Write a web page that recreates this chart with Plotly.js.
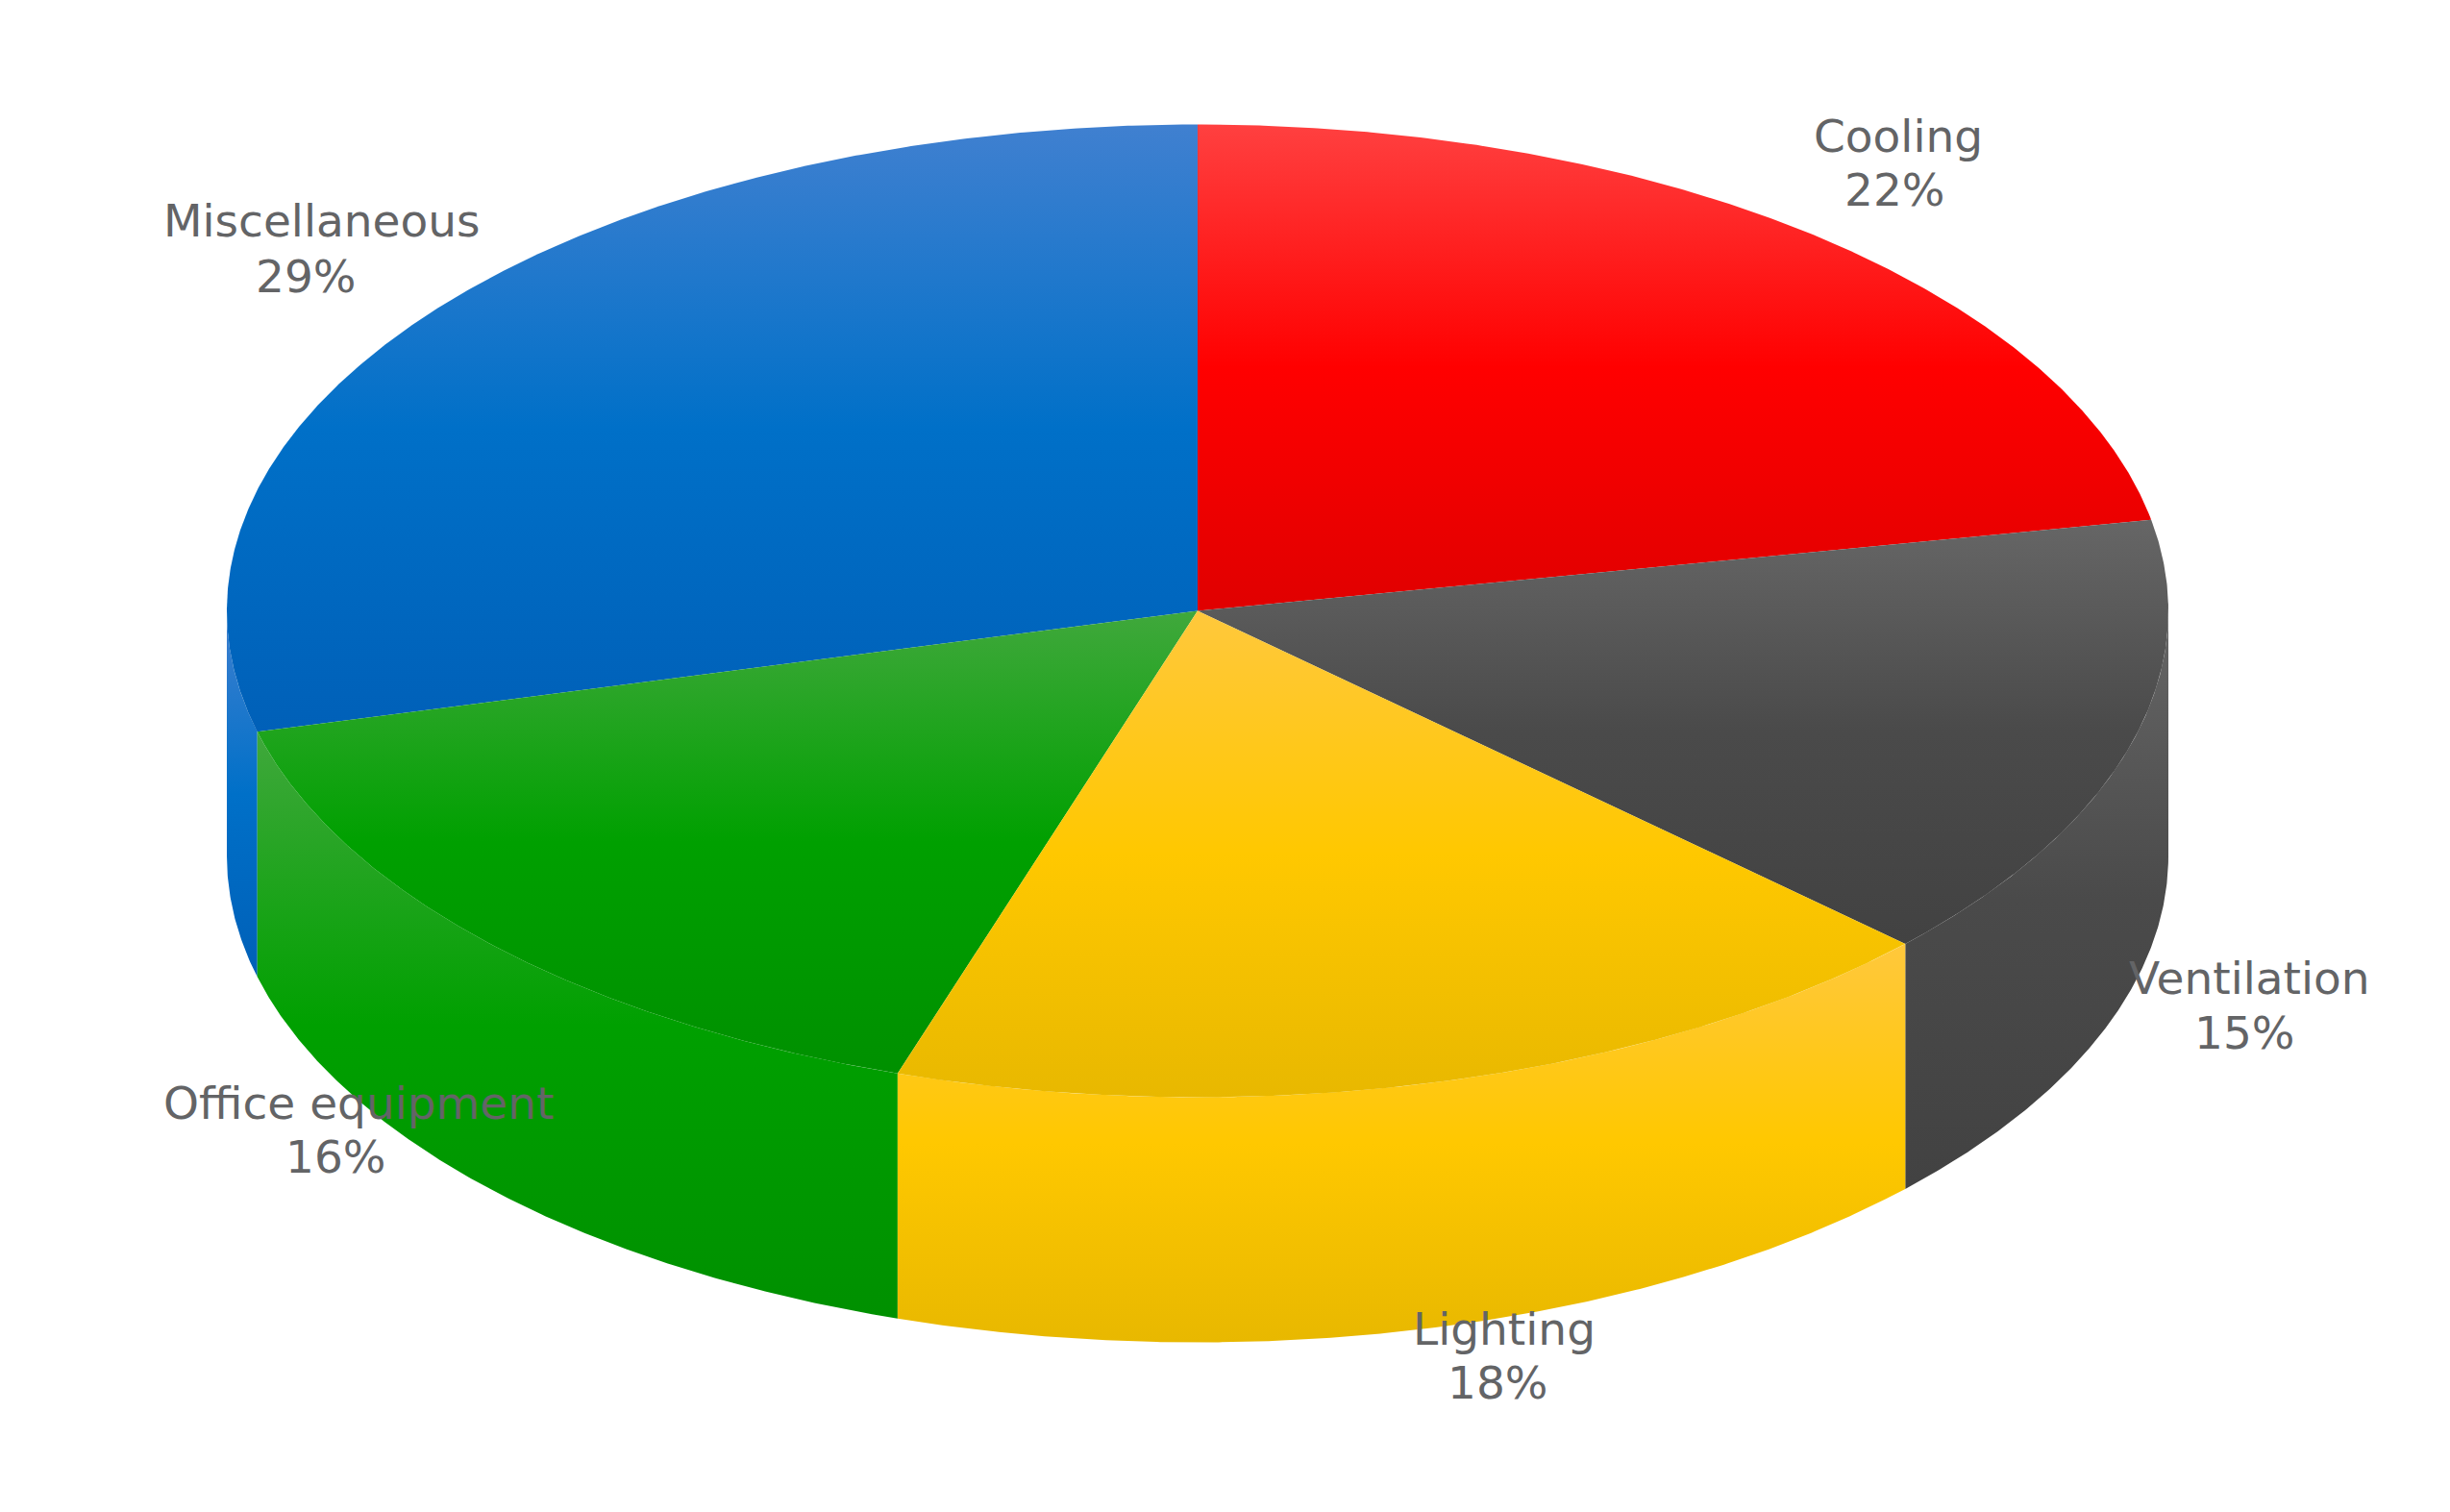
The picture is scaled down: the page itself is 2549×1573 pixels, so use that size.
<!DOCTYPE html>
<html>
<head>
<meta charset="utf-8">
<script src="https://cdn.plot.ly/plotly-3.0.1.min.js"></script>
<style>html,body{margin:0;padding:0;background:#fff;overflow:hidden}#chart{width:2549px;height:1573px}</style>
</head>
<body>
<div id="chart"></div>
<script>
// ---- chart data ----
const categories = ["Cooling", "Ventilation", "Lighting", "Office equipment", "Miscellaneous"];
const shares = [22, 15, 18, 16, 29];
// ---- colours: lit edge, body, shaded edge of every slice ----
const litColors = ["#ff4040", "#666666", "#ffc83c", "#40a83c", "#4080d0"];
const bodyColors = ["#ff0000", "#4a4a4a", "#ffc800", "#00a000", "#0070c8"];
const shadeColors = ["#e00000", "#424242", "#e8b800", "#009000", "#0060b8"];
// ---- label placement in page pixels: centre x and baseline y of each line ----
const nameCentreX = [1975, 2340, 1564.5, 373, 334.5];
const nameBaseline = [156, 1032, 1397, 1162, 245];
const shareCentreX = [1971, 2335, 1558.5, 349, 318];
const shareBaseline = [212.5, 1089, 1453, 1218, 302];

// ---- figure geometry ----
const W = 2549, H = 1573;
const centrePx = [1246, 635.5];
const radiusPx = 1010;
const tilt = 506 / 1010;
const depth = 255 / 1010;
const labelFont = 47;
const labelColor = "#636466";
const labelMiddleShift = 15;

function angleOf(pct) { return pct * 3.6 * Math.PI / 180; }
function rimX(a) { return Math.sin(a); }
function rimY(a) { return Math.cos(a) * tilt; }
function arc(a0, a1, drop) {
  const n = Math.max(2, Math.ceil(Math.abs(a1 - a0) / 0.004));
  const xs = [], ys = [];
  for (let i = 0; i <= n; i++) {
    const a = a0 + (a1 - a0) * i / n;
    xs.push(rimX(a));
    ys.push(rimY(a) - drop);
  }
  return [xs, ys];
}
function gradientTrace(name, xs, ys, i, hi, lo) {
  return {
    type: "scatter", mode: "lines", name: name, x: xs, y: ys,
    fill: "toself", line: {width: 0}, showlegend: false,
    hovertemplate: categories[i] + ": " + shares[i] + "%<extra></extra>",
    fillgradient: {
      type: "vertical", start: hi, stop: lo,
      colorscale: [[0, litColors[i]], [0.5, bodyColors[i]], [1, shadeColors[i]]]
    }
  };
}

// slice angle limits from the shares
const limits = [];
let running = 0;
shares.forEach(v => { limits.push([angleOf(running), angleOf(running + v)]); running += v; });

// outer walls, only the part that faces the viewer
function wall(i) {
  const a0 = Math.max(limits[i][0], Math.PI / 2);
  const a1 = Math.min(limits[i][1], Math.PI * 1.5);
  const top = arc(a0, a1, 0), bot = arc(a1, a0, depth);
  const xs = top[0].concat(bot[0]), ys = top[1].concat(bot[1]);
  return gradientTrace(categories[i] + " side", xs, ys, i, Math.max(...ys), Math.min(...ys));
}
// top faces
function face(i) {
  const rim = arc(limits[i][0], limits[i][1], 0);
  const xs = [0].concat(rim[0], [0]), ys = [0].concat(rim[1], [0]);
  return gradientTrace(categories[i], xs, ys, i, Math.max(...ys), Math.min(...ys));
}

const traces = [wall(4), wall(1), wall(3), wall(2), face(4), face(0), face(1), face(3), face(2)];

const annotations = [];
categories.forEach((c, i) => {
  [[c, nameCentreX[i], nameBaseline[i]], [shares[i] + "%", shareCentreX[i], shareBaseline[i]]].forEach(l => {
    annotations.push({
      xref: "paper", yref: "paper", x: l[1] / W, y: 1 - (l[2] - labelMiddleShift) / H,
      text: l[0], showarrow: false, xanchor: "center", yanchor: "middle",
      font: {family: "DejaVu Sans", size: labelFont, color: labelColor}
    });
  });
});

const layout = {
  width: W, height: H, margin: {l: 0, r: 0, t: 0, b: 0},
  paper_bgcolor: "#ffffff", plot_bgcolor: "#ffffff", showlegend: false, hovermode: "closest",
  xaxis: {visible: false, fixedrange: true, range: [-centrePx[0] / radiusPx, (W - centrePx[0]) / radiusPx]},
  yaxis: {visible: false, fixedrange: true, range: [(centrePx[1] - H) / radiusPx, centrePx[1] / radiusPx]},
  annotations: annotations
};
Plotly.newPlot("chart", traces, layout, {displayModeBar: false, responsive: false});
</script>
</body>
</html>
